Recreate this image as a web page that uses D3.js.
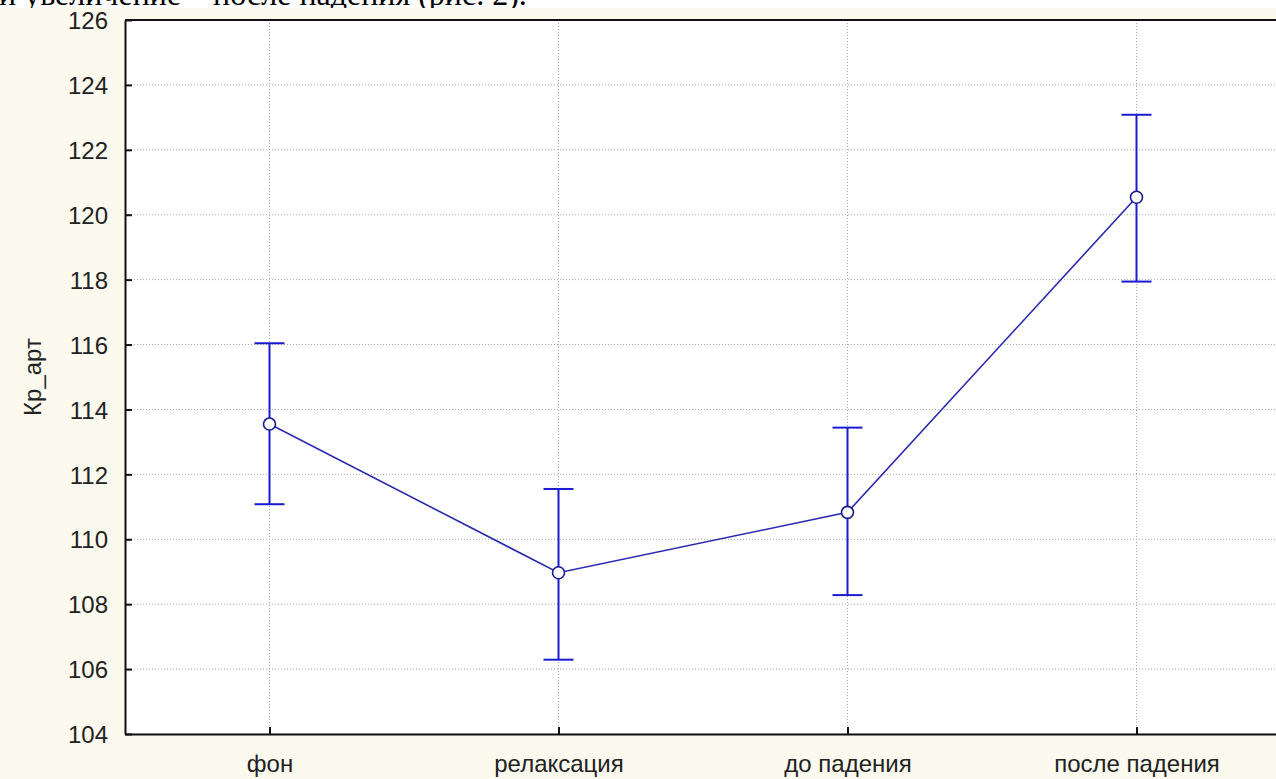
<!DOCTYPE html>
<meta charset="utf-8">
<html>
<script src="https://d3js.org/d3.v7.min.js"></script>
<style>
    body { margin: 0; background: #fcf9ef; }
    svg { display: block; }
</style>
<body>
<div id="chart"></div>
<script>
    // data
    var categories = ["фон", "релаксация", "до падения", "после падения"];
    var means = [113.55, 108.97, 110.83, 120.54];
    var lower = [111.08, 106.29, 108.28, 117.94];
    var upper = [116.04, 111.55, 113.44, 123.08];
    var yTicks = [104, 106, 108, 110, 112, 114, 116, 118, 120, 122, 124, 126];

    var W = 1276, H = 779;
    var margin = { top: 20, right: -5, bottom: 45, left: 125 },
        width = W - margin.left - margin.right,
        height = H - margin.top - margin.bottom;

    var root = d3.select("#chart").append("svg")
        .attr("width", W)
        .attr("height", H);

    // cut-off line of document text above the figure
    root.append("rect").attr("width", W).attr("height", H).attr("fill", "#ffffff");
    root.append("text")
        .attr("x", -1).attr("y", 5)
        .attr("font-family", "Liberation Serif, Times New Roman, serif")
        .attr("font-size", 32)
        .attr("fill", "#000")
        .text("и увеличение – после падения (рис. 2).");
    root.append("rect").attr("y", 8).attr("width", W).attr("height", H - 8).attr("fill", "#fcf9ef");

    var svg = root.append("g")
        .attr("transform", "translate(" + margin.left + "," + margin.top + ")");

    var x = d3.scalePoint()
        .domain(categories)
        .range([0, width])
        .padding(0.5);

    var y = d3.scaleLinear()
        .domain([104, 126])
        .range([height, 0]);

    svg.append("rect")
        .attr("width", width).attr("height", height)
        .attr("fill", "#ffffff");

    // grid
    svg.append("g").selectAll("line.gy")
        .data(yTicks).enter().append("line")
        .attr("x1", 0).attr("x2", width)
        .attr("y1", function (d) { return y(d); })
        .attr("y2", function (d) { return y(d); })
        .attr("stroke", "#a8a8a8")
        .attr("stroke-dasharray", "1,2");
    svg.append("g").selectAll("line.gx")
        .data(categories).enter().append("line")
        .attr("y1", 0).attr("y2", height)
        .attr("x1", function (d) { return x(d); })
        .attr("x2", function (d) { return x(d); })
        .attr("stroke", "#a8a8a8")
        .attr("stroke-dasharray", "1,2");

    // axes
    var yAxis = svg.append("g")
        .call(d3.axisLeft(y).tickValues(yTicks).tickSizeInner(-7).tickSizeOuter(0).tickPadding(17));
    var xAxis = svg.append("g")
        .attr("transform", "translate(0," + height + ")")
        .call(d3.axisBottom(x).tickSizeInner(-7).tickSizeOuter(0).tickPadding(21));
    [xAxis, yAxis].forEach(function (a) {
        a.select(".domain").attr("stroke", "#111").attr("stroke-width", 2);
        a.selectAll(".tick line").attr("stroke", "#111").attr("stroke-width", 2);
        a.selectAll("text")
            .attr("font-family", "Liberation Sans, Arial, sans-serif")
            .attr("font-size", 24)
            .attr("fill", "#222");
    });
    yAxis.selectAll("text").attr("dy", "0.36em");
    // top frame line
    svg.append("line")
        .attr("x1", 0).attr("x2", width)
        .attr("y1", 0).attr("y2", 0)
        .attr("stroke", "#111").attr("stroke-width", 2);

    // y label
    svg.append("text")
        .attr("transform", "translate(-84," + (height / 2) + ") rotate(-90)")
        .attr("text-anchor", "middle")
        .attr("font-family", "Liberation Sans, Arial, sans-serif")
        .attr("font-size", 24)
        .attr("fill", "#222")
        .text("Кр_арт");

    // error bars
    var bars = svg.append("g").selectAll("g")
        .data(categories).enter().append("g");
    bars.append("line")
        .attr("x1", function (d) { return x(d); })
        .attr("x2", function (d) { return x(d); })
        .attr("y1", function (d, i) { return y(lower[i]); })
        .attr("y2", function (d, i) { return y(upper[i]); })
        .attr("stroke", "#1a1ad0").attr("stroke-width", 2);
    [lower, upper].forEach(function (arr) {
        bars.append("line")
            .attr("x1", function (d) { return x(d) - 15; })
            .attr("x2", function (d) { return x(d) + 15; })
            .attr("y1", function (d, i) { return y(arr[i]); })
            .attr("y2", function (d, i) { return y(arr[i]); })
            .attr("stroke", "#1a1ad0").attr("stroke-width", 2);
    });

    // mean line
    var line = d3.line()
        .x(function (d, i) { return x(categories[i]); })
        .y(function (d) { return y(d); });
    svg.append("path")
        .datum(means)
        .attr("fill", "none")
        .attr("stroke", "#2a2ab0")
        .attr("stroke-width", 1.6)
        .attr("d", line);

    svg.append("g").selectAll("circle")
        .data(means).enter().append("circle")
        .attr("cx", function (d, i) { return x(categories[i]); })
        .attr("cy", function (d) { return y(d); })
        .attr("r", 6)
        .attr("fill", "#ffffff")
        .attr("stroke", "#1a1a90")
        .attr("stroke-width", 1.6);
</script>
</body>
</html>
